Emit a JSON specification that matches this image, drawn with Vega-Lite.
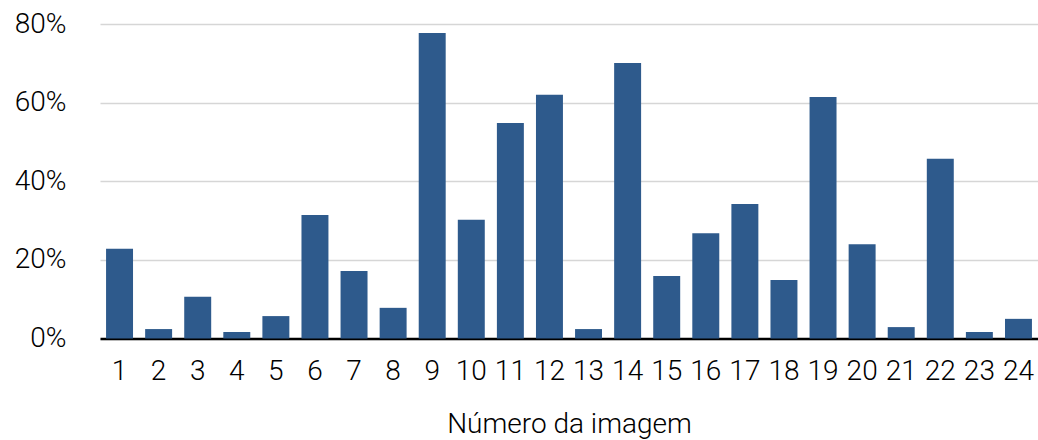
{
  "$schema": "https://vega.github.io/schema/vega-lite/v6.json",
  "autosize": "none",
  "width": 938,
  "height": 314.5,
  "padding": {"left": 100, "top": 24, "right": 0, "bottom": 101.5},
  "background": "white",
  "data": {
    "values": [
      {"imagem": "1", "valor": 0.228},
      {"imagem": "2", "valor": 0.024},
      {"imagem": "3", "valor": 0.106},
      {"imagem": "4", "valor": 0.0165},
      {"imagem": "5", "valor": 0.057},
      {"imagem": "6", "valor": 0.314},
      {"imagem": "7", "valor": 0.172},
      {"imagem": "8", "valor": 0.078},
      {"imagem": "9", "valor": 0.777},
      {"imagem": "10", "valor": 0.302},
      {"imagem": "11", "valor": 0.548},
      {"imagem": "12", "valor": 0.620},
      {"imagem": "13", "valor": 0.024},
      {"imagem": "14", "valor": 0.701},
      {"imagem": "15", "valor": 0.159},
      {"imagem": "16", "valor": 0.268},
      {"imagem": "17", "valor": 0.342},
      {"imagem": "18", "valor": 0.149},
      {"imagem": "19", "valor": 0.614},
      {"imagem": "20", "valor": 0.240},
      {"imagem": "21", "valor": 0.029},
      {"imagem": "22", "valor": 0.457},
      {"imagem": "23", "valor": 0.0165},
      {"imagem": "24", "valor": 0.050}
    ]
  },
  "mark": {"type": "bar", "color": "#2e5a8c"},
  "encoding": {
    "x": {
      "field": "imagem",
      "type": "ordinal",
      "sort": null,
      "scale": {"paddingInner": 0.31, "paddingOuter": 0.155},
      "axis": {
        "title": "Número da imagem",
        "labelAngle": 0,
        "ticks": false,
        "domainColor": "#000000",
        "domainWidth": 2.5,
        "labelFont": "Roboto",
        "labelFontWeight": 300,
        "labelFontSize": 28,
        "labelColor": "#000000",
        "labelBaseline": "alphabetic",
        "labelPadding": 41,
        "titleFont": "Roboto",
        "titleFontWeight": 300,
        "titleFontSize": 28,
        "titleColor": "#000000",
        "titleBaseline": "alphabetic",
        "titleY": 94,
        "grid": false
      }
    },
    "y": {
      "field": "valor",
      "type": "quantitative",
      "scale": {"domain": [0, 0.8], "nice": false},
      "axis": {
        "title": null,
        "format": ".0%",
        "values": [0, 0.2, 0.4, 0.6, 0.8],
        "domain": false,
        "ticks": false,
        "grid": true,
        "gridColor": "#d6d6d6",
        "gridWidth": 1.5,
        "labelFont": "Roboto",
        "labelFontWeight": 300,
        "labelFontSize": 28,
        "labelColor": "#000000",
        "labelPadding": 34,
        "labelBaseline": "middle"
      }
    }
  },
  "config": {"view": {"stroke": null}}
}
